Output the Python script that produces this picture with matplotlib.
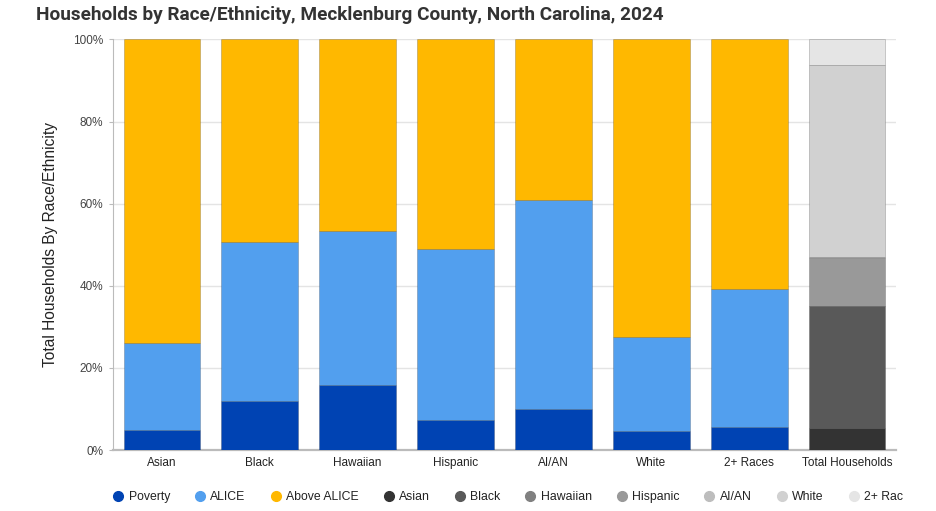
import numpy as np
from matplotlib import pyplot as plt
from matplotlib.lines import Line2D

groups = ["Asian", "Black", "Hawaiian", "Hispanic", "AI/AN", "White", "2+ Races"]
poverty = [4.9, 12.0, 15.9, 7.2, 10.0, 4.7, 5.5]
alice = [21.2, 38.7, 37.4, 41.7, 50.8, 22.9, 33.8]
above_alice = [100 - p - a for p, a in zip(poverty, alice)]

# share of all households, stacked in the last bar
total_labels = ["Asian", "Black", "Hawaiian", "Hispanic", "AI/AN", "White", "2+ Races"]
total_shares = [5.3, 29.8, 0.1, 11.6, 0.3, 46.8, 6.1]

x_labels = groups + ["Total Households"]

status_colors = ["#0043b3", "#529fee", "#ffb800"]
gray_colors = ["#333333", "#595959", "#808080", "#999999", "#bdbdbd", "#d1d1d1", "#e5e5e5"]
legend_names = ["Poverty", "ALICE", "Above ALICE", "Asian", "Black", "Hawaiian",
                "Hispanic", "AI/AN", "White", "2+ Rac"]

plt.rcParams['font.family'] = ['Liberation Sans', 'DejaVu Sans']

fig = plt.figure(figsize=(9.36, 5.11), dpi=100)
ax = fig.add_axes([113 / 936, 61 / 511, 783 / 936, 410.5 / 511])

w = 0.785
xs = np.arange(len(groups))
edge = dict(edgecolor=(0, 0, 0, 0.18), linewidth=0.7)
ax.bar(xs, poverty, w, color=status_colors[0], zorder=3, **edge)
ax.bar(xs, alice, w, bottom=poverty, color=status_colors[1], zorder=3, **edge)
ax.bar(xs, above_alice, w, bottom=np.add(poverty, alice), color=status_colors[2], zorder=3, **edge)

bottom = 0
for share, col in zip(total_shares, gray_colors):
    ax.bar(len(groups), share, w, bottom=bottom, color=col, zorder=3, **edge)
    bottom += share

ax.set_xlim(-0.5, len(x_labels) - 0.5)
ax.set_ylim(0, 100)
ax.set_yticks(range(0, 101, 20))
ax.set_yticklabels([f"{v}%" for v in range(0, 101, 20)])
ax.set_xticks(range(len(x_labels)))
ax.set_xticklabels(x_labels)
ax.tick_params(axis='y', labelsize=8.5, colors='#444444', length=3, width=0.8, pad=4)
ax.tick_params(axis='y', color='#bbbbbb')
ax.tick_params(axis='x', labelsize=8.5, colors='#222222', length=0, pad=5)
ax.grid(axis='y', color='#e4e4e4', linewidth=1, zorder=0)

for s in ["top", "right"]:
    ax.spines[s].set_visible(False)
ax.spines["left"].set_color("#bbbbbb")
ax.spines["left"].set_linewidth(0.8)
ax.spines["bottom"].set_color("#bbbbbb")
ax.spines["bottom"].set_linewidth(1.6)

ax.set_ylabel("Total Households By Race/Ethnicity", fontsize=11.2, color='#222222')
ax.yaxis.set_label_coords((58 - 113) / 783, 0.5)

fig.text(36 / 936, 1 - 15 / 511, "Households by Race/Ethnicity, Mecklenburg County, North Carolina, 2024",
         family=['Roboto', 'DejaVu Sans'], weight='bold', fontsize=13.65, color='#333333', va='center')

handles = [Line2D([], [], marker='o', linestyle='none', markersize=7, color=c)
           for c in status_colors + gray_colors]
fig.legend(handles, legend_names, ncol=10, loc='center left', frameon=False,
           bbox_to_anchor=(103 / 936, 1 - 497 / 511), fontsize=8.8, handlelength=0.7,
           handletextpad=0.5, columnspacing=2.1, labelcolor='#222222')

fig.savefig("out.png")
